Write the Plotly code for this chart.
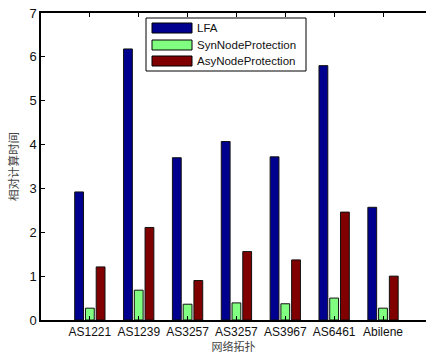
import plotly.graph_objects as go

categories = ["AS1221", "AS1239", "AS3257", "AS3257", "AS3967", "AS6461", "Abilene"]
series_names = ["LFA", "SynNodeProtection", "AsyNodeProtection"]
lfa = [2.92, 6.18, 3.70, 4.07, 3.72, 5.80, 2.57]
syn = [0.27, 0.68, 0.36, 0.39, 0.37, 0.50, 0.27]
asy = [1.21, 2.11, 0.90, 1.56, 1.37, 2.46, 1.00]
colors = ["#00008F", "#80FF80", "#800000"]
y_ticks = [0, 1, 2, 3, 4, 5, 6, 7]

W, H = 426, 354
ml, mr, mt, mb = 41, 0, 13, 34
pw, ph = W - ml - mr, H - mt - mb

xpos = list(range(1, len(categories) + 1))

fig = go.Figure()
for name, vals, col in zip(series_names, [lfa, syn, asy], colors):
    fig.add_trace(go.Bar(
        x=xpos, y=vals, name=name, marker_color=col,
        marker_line_color="#111111", marker_line_width=1,
        showlegend=False,
    ))

font = "Liberation Sans, Arial, sans-serif"
cjk = "Noto Sans CJK SC, sans-serif"

fig.update_layout(
    width=W, height=H,
    margin=dict(l=ml, r=mr, t=mt, b=mb),
    paper_bgcolor="white", plot_bgcolor="white",
    barmode="group", bargap=0.34, bargroupgap=0.18,
    font=dict(family=font, size=12, color="#111111"),
    xaxis=dict(
        range=[0, 7.88], tickmode="array", tickvals=xpos, ticktext=categories,
        ticks="inside", ticklen=4, tickcolor="black", mirror="ticks",
        showline=True, linecolor="black", linewidth=1.5, showgrid=False,
        zeroline=False, tickfont=dict(size=12, family=font, color="#111"),
        title=dict(text="网络拓扑", font=dict(family=cjk, size=11, color="#444"), standoff=2),
    ),
    yaxis=dict(
        range=[0, 7], tickmode="array", tickvals=y_ticks,
        ticks="inside", ticklen=4, tickcolor="black", mirror=False,
        showline=True, linecolor="black", linewidth=1.5, showgrid=False,
        zeroline=False, tickfont=dict(size=13, family=font, color="#111"),
        title=dict(text="相对计算时间", font=dict(family=cjk, size=11.5, color="#444"), standoff=8),
    ),
)

# custom legend box (MATLAB style)
def px_x(p):
    return (p - ml) / pw

def px_y(p):
    return (H - mb - p) / ph

shapes = [dict(type="rect", xref="paper", yref="paper",
               x0=px_x(146), x1=px_x(306), y0=px_y(71), y1=px_y(18),
               line=dict(color="black", width=1), fillcolor="white", layer="above")]
annotations = []
row_y = [28, 45, 61]
for name, col, ry in zip(series_names, colors, row_y):
    shapes.append(dict(type="rect", xref="paper", yref="paper",
                       x0=px_x(152), x1=px_x(192), y0=px_y(ry + 5), y1=px_y(ry - 5),
                       line=dict(color="black", width=1), fillcolor=col, layer="above"))
    annotations.append(dict(xref="paper", yref="paper", x=px_x(195), y=px_y(ry),
                            text=name, showarrow=False, xanchor="left", yanchor="middle",
                            font=dict(family=font, size=11.5, color="#111")))
fig.update_layout(shapes=shapes, annotations=annotations)

fig.write_html("out.html")
